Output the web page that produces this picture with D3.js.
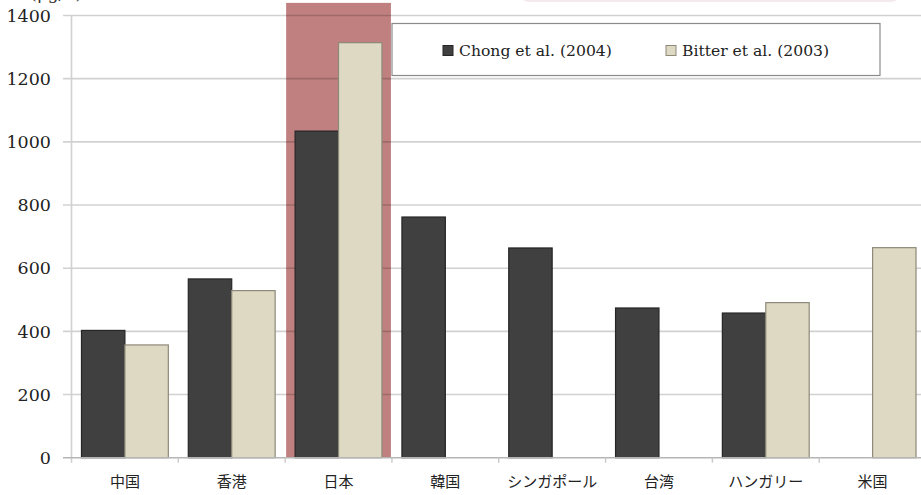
<!DOCTYPE html>
<html>
<head>
<meta charset="utf-8">
<script src="https://cdn.jsdelivr.net/npm/d3@7/dist/d3.min.js"></script>
<style>
  html, body { margin: 0; padding: 0; background: #fff; }
  svg { display: block; }
</style>
</head>
<body>
<svg id="chart" width="921" height="495"></svg>
<script>
// Regions compared
const categories = ["中国", "香港", "日本", "韓国", "シンガポール", "台湾", "ハンガリー", "米国"];
const seriesNames = ["Chong et al. (2004)", "Bitter et al. (2003)"];
const chongValues = [403, 566, 1034, 762, 664, 474, 458, null];
const bitterValues = [357, 529, 1314, null, null, null, 491, 665];
const yTicks = [0, 200, 400, 600, 800, 1000, 1200, 1400];
const highlighted = "日本";
const highlightTop = 1440;
const unitLabel = "(μg/L)";

const colors = { fill: ["#404040", "#ddd9c3"], stroke: ["#262626", "#8e8a7a"] };

const svg = d3.select("#chart");

const x = d3.scaleBand().domain(categories).range([71.5, 926]).paddingInner(0).paddingOuter(0);
const xs = d3.scaleBand().domain(seriesNames).range([0, x.bandwidth()]).paddingInner(0).paddingOuter(0.23);
const y = d3.scaleLinear().domain([0, 1400]).range([457.7, 15.5]);

// partially visible header elements at the top edge
svg.append("rect")
  .attr("x", 522).attr("y", -30).attr("width", 376).attr("height", 31)
  .attr("rx", 6).attr("fill", "#fff").attr("stroke", "#f1e6e6").attr("stroke-width", 1.5);
svg.append("text")
  .attr("x", 30).attr("y", -1)
  .attr("font-family", "DejaVu Serif").attr("font-size", 17)
  .attr("fill", "#333").text(unitLabel);

// highlight band behind the selected category
svg.append("rect")
  .attr("x", x(highlighted) + 1).attr("width", x.bandwidth() - 2)
  .attr("y", y(highlightTop)).attr("height", y(0) - y(highlightTop))
  .attr("fill", "#c08080");

// horizontal gridlines with tick extension
const grid = svg.append("g");
grid.selectAll("line").data(yTicks.filter(d => d > 0)).join("line")
  .attr("x1", 63).attr("x2", 921)
  .attr("y1", d => y(d)).attr("y2", d => y(d))
  .attr("stroke", "rgba(0,0,0,0.18)").attr("stroke-width", 1.6);

// y axis line
svg.append("line")
  .attr("x1", 71.5).attr("x2", 71.5).attr("y1", y(1400)).attr("y2", y(0) + 5)
  .attr("stroke", "#d0d0d0").attr("stroke-width", 1.6);

// y tick labels
svg.append("g").selectAll("text").data(yTicks).join("text")
  .attr("x", 51).attr("y", d => y(d))
  .attr("dy", "0.36em")
  .attr("text-anchor", "end")
  .attr("font-family", "DejaVu Serif").attr("font-size", 17.5)
  .attr("fill", "#222")
  .text(d => d);

// bars
const bars = svg.append("g");
const series = [chongValues, bitterValues];
series.forEach((vals, si) => {
  bars.append("g").selectAll("rect")
    .data(categories.map((c, i) => ({ c, v: vals[i] })).filter(d => d.v != null))
    .join("rect")
    .attr("x", d => x(d.c) + xs(seriesNames[si]))
    .attr("width", xs.bandwidth())
    .attr("y", d => y(d.v))
    .attr("height", d => y(0) - y(d.v))
    .attr("fill", colors.fill[si])
    .attr("stroke", colors.stroke[si])
    .attr("stroke-width", 1.2);
});

// x axis line and boundary ticks
svg.append("line")
  .attr("x1", 63).attr("x2", 921).attr("y1", y(0)).attr("y2", y(0))
  .attr("stroke", "#b5b5b5").attr("stroke-width", 1.4);
svg.append("g").selectAll("line").data(categories.slice(1)).join("line")
  .attr("x1", d => x(d)).attr("x2", d => x(d))
  .attr("y1", y(0)).attr("y2", y(0) + 5)
  .attr("stroke", "#c8c8c8").attr("stroke-width", 1.4);

// category labels
svg.append("g").selectAll("text").data(categories).join("text")
  .attr("x", d => x(d) + x.bandwidth() / 2)
  .attr("y", 482)
  .attr("dy", "0.35em")
  .attr("text-anchor", "middle")
  .attr("font-family", "Noto Sans CJK JP").attr("font-size", 15)
  .attr("fill", "#222")
  .text(d => d);

// legend
const legend = svg.append("g");
legend.append("rect")
  .attr("x", 392).attr("y", 23.5).attr("width", 488).attr("height", 52)
  .attr("fill", "#fff").attr("stroke", "#8a8a8a").attr("stroke-width", 1.2);
const legendX = [443, 666];
seriesNames.forEach((name, i) => {
  legend.append("rect")
    .attr("x", legendX[i]).attr("y", 45.5).attr("width", 10).attr("height", 10)
    .attr("fill", colors.fill[i]).attr("stroke", colors.stroke[i]).attr("stroke-width", 1);
  legend.append("text")
    .attr("x", legendX[i] + 16).attr("y", 55.5)
    .attr("font-family", "DejaVu Serif").attr("font-size", 15.6)
    .attr("fill", "#222")
    .text(name);
});
</script>
</body>
</html>
